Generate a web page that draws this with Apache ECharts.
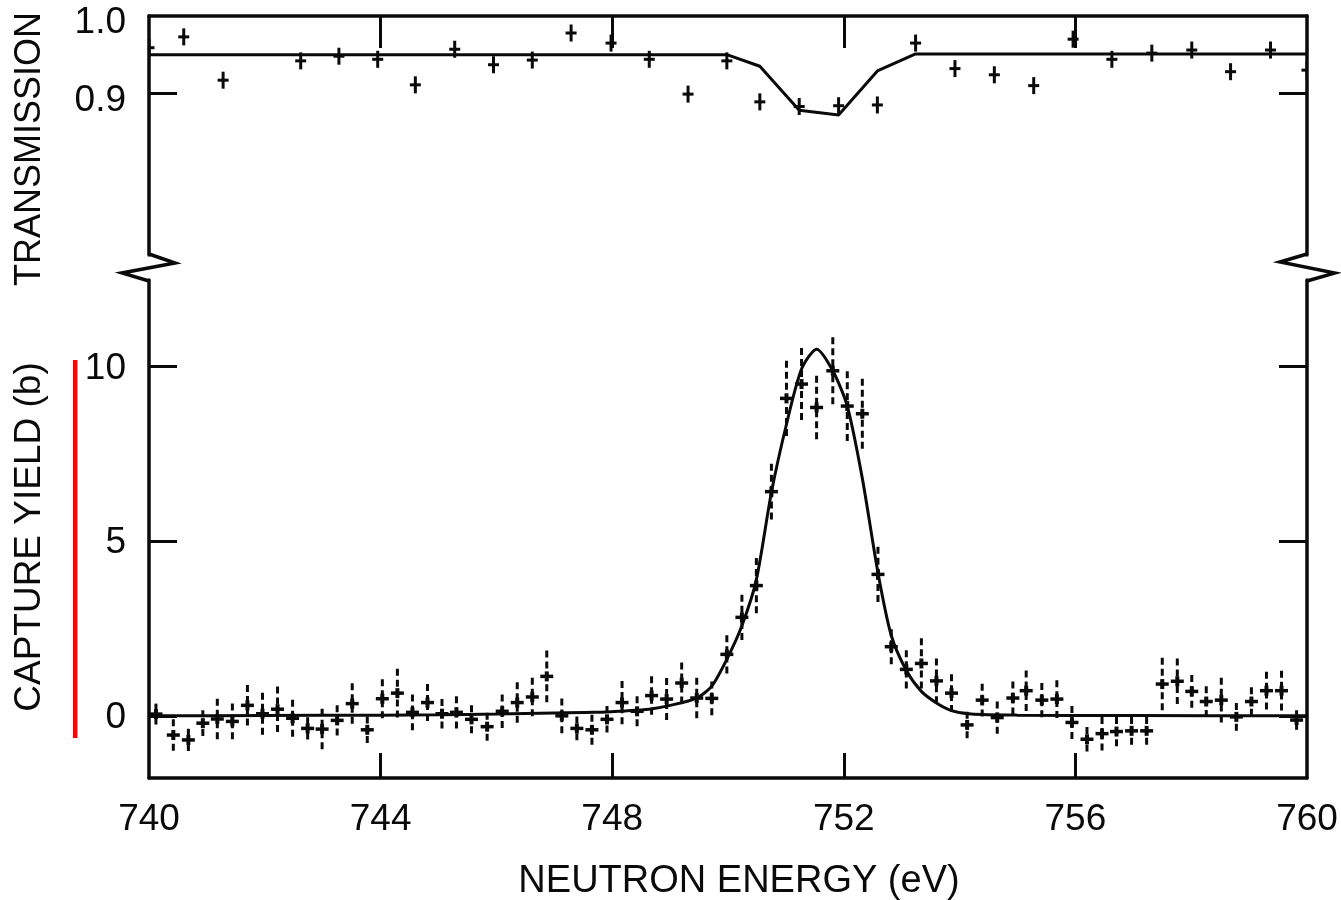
<!DOCTYPE html>
<html>
<head>
<meta charset="utf-8">
<script src="https://cdn.jsdelivr.net/npm/echarts@6/dist/echarts.min.js"></script>
<style>
  html, body { margin: 0; padding: 0; background: #fff; }
  #chart { width: 1341px; height: 900px; }
</style>
</head>
<body>
<div id="chart"></div>
<script>
// ---------- DATA ----------
// Transmission panel
const transE = [740.0, 740.60, 741.28, 742.62, 743.28, 743.95, 744.60, 745.28, 745.95, 746.62,
                747.29, 747.98, 748.64, 749.31, 749.98, 750.55, 751.23, 751.91, 752.58, 753.24,
                753.92, 754.60, 755.28, 755.96, 756.63, 757.32, 758.01, 758.68, 759.37, 760.0];
const transV = [0.959, 0.973, 0.917, 0.942, 0.948, 0.944, 0.911, 0.957, 0.937, 0.943,
                0.978, 0.965, 0.944, 0.899, 0.942, 0.889, 0.883, 0.884, 0.885, 0.965,
                0.932, 0.924, 0.910, 0.970, 0.944, 0.952, 0.956, 0.928, 0.956, 0.930];
const transErr = 0.011;
const transFitE = [740.0, 749.98, 750.55, 751.23, 751.91, 752.58, 753.24, 760.0];
const transFitV = [0.950, 0.950, 0.935, 0.878, 0.872, 0.929, 0.951, 0.951];

// Capture yield panel
const capE = [740.12, 740.42, 740.68, 740.93, 741.18, 741.44, 741.70, 741.96, 742.22, 742.48,
              742.74, 742.99, 743.25, 743.51, 743.77, 744.03, 744.29, 744.55, 744.81, 745.06,
              745.31, 745.57, 745.84, 746.10, 746.36, 746.62, 746.87, 747.13, 747.39, 747.65,
              747.91, 748.17, 748.43, 748.68, 748.94, 749.20, 749.46, 749.72, 749.98, 750.24,
              750.49, 750.75, 751.01, 751.27, 751.53, 751.81, 752.06, 752.32, 752.59, 752.82,
              753.08, 753.34, 753.60, 753.86, 754.13, 754.39, 754.65, 754.92, 755.15, 755.42,
              755.68, 755.94, 756.20, 756.46, 756.71, 756.97, 757.23, 757.50, 757.76, 758.01,
              758.26, 758.52, 758.78, 759.04, 759.30, 759.56, 759.82];
const capV = [0.05, -0.55, -0.69, -0.21, -0.09, -0.16, 0.30, 0.06, 0.19, -0.07,
              -0.36, -0.38, -0.13, 0.35, -0.40, 0.49, 0.65, 0.10, 0.38, 0.06,
              0.10, -0.10, -0.31, 0.13, 0.38, 0.54, 1.13, 0.0, -0.36, -0.40,
              -0.10, 0.38, 0.13, 0.58, 0.48, 0.94, 0.51, 0.50, 1.76, 2.82,
              3.73, 6.42, 9.09, 9.50, 8.83, 9.88, 8.87, 8.65, 4.05, 1.98,
              1.33, 1.50, 1.00, 0.65, -0.26, 0.45, -0.05, 0.51, 0.72, 0.45,
              0.48, -0.19, -0.67, -0.51, -0.45, -0.43, -0.43, 0.91, 0.99, 0.70,
              0.41, 0.45, -0.03, 0.41, 0.72, 0.72, -0.12];
const capErr = [0.3, 0.45, 0.32, 0.37, 0.58, 0.51, 0.58, 0.6, 0.65, 0.53,
                0.32, 0.58, 0.43, 0.58, 0.38, 0.56, 0.7, 0.51, 0.53, 0.42,
                0.46, 0.4, 0.4, 0.48, 0.58, 0.55, 0.74, 0.5, 0.34, 0.43,
                0.38, 0.62, 0.43, 0.55, 0.6, 0.59, 0.58, 0.48, 0.55, 0.65,
                0.79, 0.8, 1.08, 1.03, 0.91, 0.96, 1.0, 1.0, 0.79, 0.5,
                0.55, 0.72, 0.64, 0.54, 0.38, 0.47, 0.46, 0.47, 0.58, 0.49,
                0.54, 0.47, 0.35, 0.48, 0.42, 0.4, 0.4, 0.75, 0.65, 0.47,
                0.44, 0.64, 0.4, 0.41, 0.54, 0.57, 0.28];
const capFitE = [740, 742, 744, 745, 746, 747, 747.7, 748.2, 748.64, 749.0,
                 749.46, 749.72, 749.98, 750.24, 750.49, 750.75, 751.01, 751.27, 751.53, 751.81,
                 752.06, 752.32, 752.59, 752.82, 753.08, 753.34, 753.60, 753.86, 754.2, 755,
                 757, 760];
const capFitV = [0.0, 0.01, 0.02, 0.03, 0.05, 0.08, 0.10, 0.14, 0.19, 0.3,
                 0.51, 0.85, 1.62, 2.58, 3.9, 6.4, 8.35, 9.93, 10.5, 9.88,
                 8.87, 6.8, 4.1, 2.3, 1.3, 0.7, 0.37, 0.15, 0.05, 0.02,
                 0.01, 0.0];

// Tick values
const xTicks = [740, 744, 748, 752, 756, 760];
const transTicks = [0.9, 1.0];
const capTicks = [0, 5, 10];

// ---------- CHART ----------
const FONT = "'Liberation Sans', Arial, Helvetica, sans-serif";
const BLACK = '#0a0a0a';
const chart = echarts.init(document.getElementById('chart'), null, { renderer: 'canvas' });

function zip3(a, b, c) { return a.map((v, i) => [v, b[i], Array.isArray(c) ? c[i] : c]); }
function zip2(a, b) { return a.map((v, i) => [v, b[i]]); }

function renderCap(params, api) {
  const x = api.value(0), y = api.value(1), e = api.value(2);
  const c = api.coord([x, y]);
  const t = api.coord([x, y + e]);
  const b = api.coord([x, y - e]);
  return {
    type: 'group',
    children: [
      { type: 'line', shape: { x1: c[0], y1: t[1], x2: c[0], y2: c[1] },
        style: { stroke: BLACK, lineWidth: 3, lineDash: [7, 4] } },
      { type: 'line', shape: { x1: c[0], y1: b[1], x2: c[0], y2: c[1] },
        style: { stroke: BLACK, lineWidth: 3, lineDash: [7, 4] } },
      { type: 'line', shape: { x1: c[0] - 6.5, y1: c[1], x2: c[0] + 6.5, y2: c[1] },
        style: { stroke: BLACK, lineWidth: 3.5 } },
      { type: 'line', shape: { x1: c[0], y1: c[1] - 5, x2: c[0], y2: c[1] + 5 },
        style: { stroke: BLACK, lineWidth: 4 } }
    ]
  };
}
function renderTrans(params, api) {
  const x = api.value(0), y = api.value(1), e = api.value(2);
  const c = api.coord([x, y]);
  const t = api.coord([x, y + e]);
  const b = api.coord([x, y - e]);
  return {
    type: 'group',
    children: [
      { type: 'line', shape: { x1: c[0], y1: t[1], x2: c[0], y2: b[1] },
        style: { stroke: BLACK, lineWidth: 3 } },
      { type: 'line', shape: { x1: c[0] - 5.5, y1: c[1], x2: c[0] + 5.5, y2: c[1] },
        style: { stroke: BLACK, lineWidth: 3 } }
    ]
  };
}

const axisLineStyle = { show: true, onZero: false, lineStyle: { color: BLACK, width: 3.5 } };
const tickStyle = { color: BLACK, width: 3 };

const option = {
  backgroundColor: '#fff',
  animation: false,
  grid: [
    { left: 149, right: 34, top: 16, height: 239 },
    { left: 149, right: 34, top: 280, height: 498 }
  ],
  xAxis: [
    { gridIndex: 0, type: 'value', min: 740, max: 760, position: 'top',
      axisLine: axisLineStyle,
      axisTick: { show: true, inside: true, length: 32, customValues: [744, 748, 752, 756], lineStyle: tickStyle },
      axisLabel: { show: false }, splitLine: { show: false } },
    { gridIndex: 1, type: 'value', min: 740, max: 760, position: 'bottom',
      axisLine: axisLineStyle,
      axisTick: { show: true, inside: true, length: 25, customValues: [744, 748, 752, 756], lineStyle: tickStyle },
      axisLabel: { show: true, customValues: xTicks, fontSize: 37, color: BLACK, fontFamily: FONT, margin: 23 },
      splitLine: { show: false } }
  ],
  yAxis: [
    { gridIndex: 0, type: 'value', min: 0.691, max: 1.0, position: 'left',
      axisLine: axisLineStyle,
      axisTick: { show: true, inside: true, length: 28, customValues: [0.9], lineStyle: tickStyle },
      axisLabel: { show: true, customValues: transTicks, formatter: v => '{s|' + v.toFixed(1) + '}',
                   color: BLACK, margin: 23,
                   rich: { s: { fontSize: 37, fontFamily: FONT, color: BLACK, padding: [14, 0, 0, 0] } } },
      splitLine: { show: false } },
    { gridIndex: 0, type: 'value', min: 0.691, max: 1.0, position: 'right',
      axisLine: axisLineStyle,
      axisTick: { show: true, inside: true, length: 28, customValues: [0.9], lineStyle: tickStyle },
      axisLabel: { show: false }, splitLine: { show: false } },
    { gridIndex: 1, type: 'value', min: -1.78, max: 12.48, position: 'left',
      axisLine: axisLineStyle,
      axisTick: { show: true, inside: true, length: 28, customValues: capTicks, lineStyle: tickStyle },
      axisLabel: { show: true, customValues: capTicks, formatter: v => '{s|' + v + '}', color: BLACK, margin: 23,
                   rich: { s: { fontSize: 37, fontFamily: FONT, color: BLACK, padding: [4, 0, 0, 0] } } },
      splitLine: { show: false } },
    { gridIndex: 1, type: 'value', min: -1.78, max: 12.48, position: 'right',
      axisLine: axisLineStyle,
      axisTick: { show: true, inside: true, length: 28, customValues: capTicks, lineStyle: tickStyle },
      axisLabel: { show: false }, splitLine: { show: false } }
  ],
  series: [
    { type: 'line', xAxisIndex: 0, yAxisIndex: 0, data: zip2(transFitE, transFitV),
      showSymbol: false, lineStyle: { color: BLACK, width: 3 }, z: 3 },
    { type: 'custom', xAxisIndex: 0, yAxisIndex: 0, data: zip3(transE, transV, transErr),
      renderItem: renderTrans, clip: true, z: 4 },
    { type: 'line', xAxisIndex: 1, yAxisIndex: 2, data: zip2(capFitE, capFitV),
      showSymbol: false, smooth: 0.25, lineStyle: { color: BLACK, width: 3 }, z: 3 },
    { type: 'custom', xAxisIndex: 1, yAxisIndex: 2, data: zip3(capE, capV, capErr),
      renderItem: renderCap, clip: true, z: 4 }
  ],
  graphic: [
    // axis break marks
    { type: 'polyline', shape: { points: [[149, 254], [175, 263], [122, 273], [149, 281]] },
      style: { stroke: BLACK, lineWidth: 3.5, fill: null } },
    { type: 'polyline', shape: { points: [[1307, 254], [1280, 262], [1335, 273], [1307, 281]] },
      style: { stroke: BLACK, lineWidth: 3.5, fill: null } },
    // red marker bar
    { type: 'rect', shape: { x: 73, y: 360, width: 4.5, height: 378 }, style: { fill: '#ff0000' } },
    // axis titles
    { type: 'text', x: 30, y: 149, rotation: Math.PI / 2,
      style: { text: 'TRANSMISSION', font: "36px " + FONT, fill: BLACK, align: 'center', verticalAlign: 'middle' } },
    { type: 'text', x: 30, y: 537, rotation: Math.PI / 2,
      style: { text: 'CAPTURE YIELD (b)', font: "37px " + FONT, fill: BLACK, align: 'center', verticalAlign: 'middle' } },
    { type: 'text', x: 739, y: 882,
      style: { text: 'NEUTRON ENERGY (eV)', font: "38px " + FONT, fill: BLACK, align: 'center', verticalAlign: 'middle' } }
  ]
};
chart.setOption(option);
</script>
</body>
</html>
